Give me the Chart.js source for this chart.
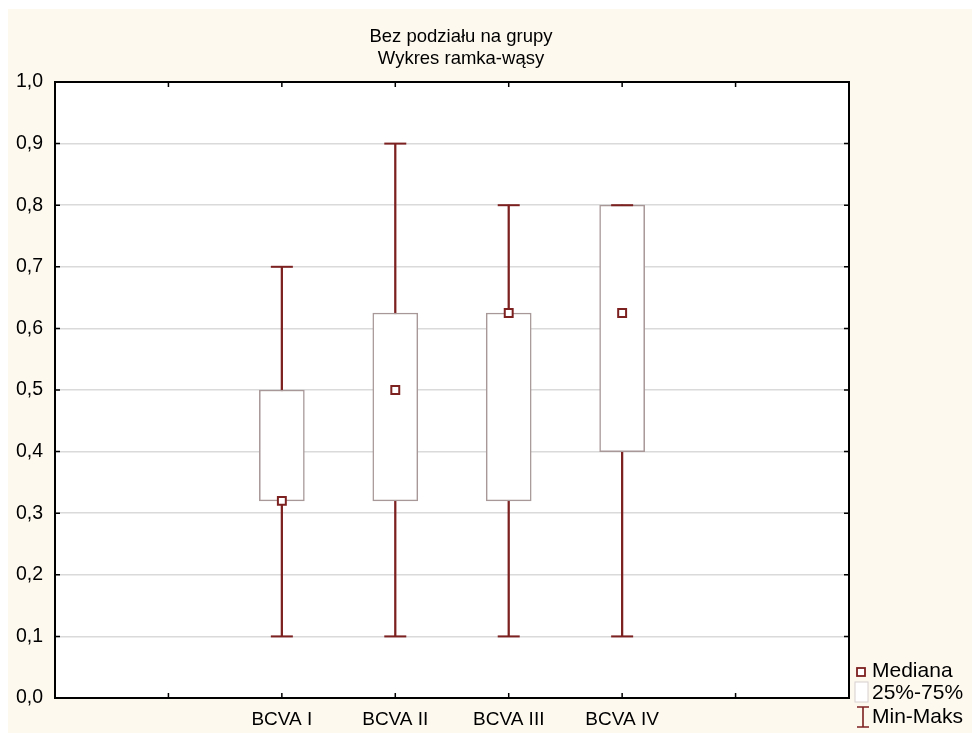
<!DOCTYPE html>
<html>
<head>
<meta charset="utf-8">
<script src="https://cdn.jsdelivr.net/npm/chart.js@4.4.1/dist/chart.umd.min.js"></script>
<style>
  body { margin: 0; background: #ffffff; }
  #wrap { width: 972px; height: 733px; }
</style>
</head>
<body>
<div id="wrap"><canvas id="boxChart" width="972" height="733"></canvas></div>
<script>
// données (Statistica, boîte à moustaches)
let categories = ['', '', 'BCVA I', 'BCVA II', 'BCVA III', 'BCVA IV', '', ''];
let minValues = [null, null, 0.1, 0.1, 0.1, 0.1, null, null];
let maxValues = [null, null, 0.7, 0.9, 0.8, 0.8, null, null];
let q1Values = [null, null, 0.32, 0.32, 0.32, 0.4, null, null];
let q3Values = [null, null, 0.5, 0.625, 0.625, 0.8, null, null];
let medianValues = [null, null, 0.32, 0.5, 0.625, 0.625, null, null];
let titleLines = ['Bez podziału na grupy', 'Wykres ramka-wąsy'];
let legendLabels = ['Mediana', '25%-75%', 'Min-Maks'];

let darkRed = '#7d2020';
let boxBorder = '#a89898';
let cream = '#fdf9ef';
let fontFamily = '"Liberation Sans", Arial, sans-serif';

function pairs(a, b) {
    return a.map(function (v, i) {
        return v === null ? null : [v, b[i]];
    });
}

// fond, cadre, graduations vers l'intérieur, titre et légende
let decorPlugin = {
    id: 'decor',
    beforeDraw: function (chart) {
        let ctx = chart.ctx;
        let a = chart.chartArea;
        ctx.save();
        ctx.fillStyle = '#ffffff';
        ctx.fillRect(0, 0, chart.width, chart.height);
        ctx.fillStyle = cream;
        ctx.fillRect(8, 9, chart.width - 8, chart.height - 9);
        ctx.fillStyle = '#ffffff';
        ctx.fillRect(a.left, a.top, a.right - a.left, a.bottom - a.top);
        ctx.restore();
    },
    afterDraw: function (chart) {
        let ctx = chart.ctx;
        let a = chart.chartArea;
        let xs = chart.scales.x;
        let ys = chart.scales.y;
        ctx.save();
        ctx.strokeStyle = '#000000';
        ctx.lineWidth = 1.5;
        ctx.beginPath();
        xs.ticks.forEach(function (t, i) {
            let px = xs.getPixelForTick(i);
            ctx.moveTo(px, a.bottom);
            ctx.lineTo(px, a.bottom - 5);
            ctx.moveTo(px, a.top);
            ctx.lineTo(px, a.top + 5);
        });
        ys.ticks.forEach(function (t, i) {
            let py = ys.getPixelForTick(i);
            ctx.moveTo(a.left, py);
            ctx.lineTo(a.left + 5, py);
            ctx.moveTo(a.right, py);
            ctx.lineTo(a.right - 5, py);
        });
        ctx.stroke();
        ctx.lineWidth = 2;
        ctx.strokeRect(a.left, a.top, a.right - a.left, a.bottom - a.top);

        // titre
        ctx.fillStyle = '#000000';
        ctx.font = '18.5px ' + fontFamily;
        ctx.textAlign = 'center';
        ctx.textBaseline = 'middle';
        ctx.fillText(titleLines[0], 461, 37);
        ctx.fillText(titleLines[1], 461, 59);

        // légende
        let lx = 857;
        ctx.textAlign = 'left';
        ctx.font = '21px ' + fontFamily;
        // Mediana
        ctx.strokeStyle = darkRed;
        ctx.lineWidth = 1.8;
        ctx.fillStyle = '#ffffff';
        ctx.fillRect(lx, 668, 8, 8);
        ctx.strokeRect(lx, 668, 8, 8);
        // 25%-75%
        ctx.fillRect(lx - 2, 682, 13, 20);
        ctx.strokeStyle = '#d8d0d0';
        ctx.lineWidth = 1;
        ctx.strokeRect(lx - 2, 682, 13, 20);
        // Min-Maks
        ctx.strokeStyle = darkRed;
        ctx.lineWidth = 1.6;
        ctx.beginPath();
        ctx.moveTo(lx, 707); ctx.lineTo(lx + 12, 707);
        ctx.moveTo(lx + 6, 707); ctx.lineTo(lx + 6, 727);
        ctx.moveTo(lx, 727); ctx.lineTo(lx + 12, 727);
        ctx.stroke();
        ctx.fillStyle = '#000000';
        ctx.fillText(legendLabels[0], 872, 671);
        ctx.fillText(legendLabels[1], 872, 693);
        ctx.fillText(legendLabels[2], 872, 717);
        ctx.restore();
    }
};

let ctx = document.getElementById('boxChart').getContext('2d');
let boxChart = new Chart(ctx, {
    type: 'bar',
    data: {
        labels: categories,
        datasets: [
            {
                label: 'Min-Maks',
                type: 'bar',
                data: pairs(minValues, maxValues),
                backgroundColor: darkRed,
                borderWidth: 0,
                barThickness: 1.6,
                grouped: false,
                order: 4
            },
            {
                label: '25%-75%',
                type: 'bar',
                data: pairs(q1Values, q3Values),
                backgroundColor: '#ffffff',
                borderColor: boxBorder,
                borderWidth: 1.5,
                borderSkipped: false,
                barThickness: 45,
                grouped: false,
                order: 3
            },
            {
                label: 'Min',
                type: 'line',
                data: minValues,
                showLine: false,
                pointStyle: 'line',
                pointRadius: 11,
                pointBorderWidth: 2,
                pointBorderColor: darkRed,
                order: 2
            },
            {
                label: 'Maks',
                type: 'line',
                data: maxValues,
                showLine: false,
                pointStyle: 'line',
                pointRadius: 11,
                pointBorderWidth: 2,
                pointBorderColor: darkRed,
                order: 2
            },
            {
                label: 'Mediana',
                type: 'line',
                data: medianValues,
                showLine: false,
                pointStyle: 'rect',
                pointRadius: 5.6,
                pointBorderWidth: 2,
                pointBorderColor: darkRed,
                pointBackgroundColor: '#ffffff',
                order: 1
            }
        ]
    },
    options: {
        responsive: false,
        animation: false,
        events: [],
        layout: { padding: { top: 82, right: 123, left: 0, bottom: 0 } },
        plugins: {
            legend: { display: false },
            title: { display: false },
            tooltip: { enabled: false }
        },
        scales: {
            x: {
                type: 'category',
                offset: false,
                border: { display: false },
                grid: { drawOnChartArea: false, drawTicks: false },
                ticks: {
                    autoSkip: false,
                    maxRotation: 0,
                    padding: 10,
                    color: '#000000',
                    font: { family: fontFamily, size: 19 }
                },
                afterFit: function (scale) { scale.height = 35; }
            },
            y: {
                min: 0,
                max: 1,
                border: { display: false },
                grid: { color: '#dadada', lineWidth: 1.5, drawTicks: false },
                ticks: {
                    stepSize: 0.1,
                    padding: 12,
                    color: '#000000',
                    font: { family: fontFamily, size: 19.5 },
                    callback: function (v) { return v.toFixed(1).replace('.', ','); }
                },
                afterFit: function (scale) { scale.width = 55; }
            }
        }
    },
    plugins: [decorPlugin]
});
</script>
</body>
</html>
